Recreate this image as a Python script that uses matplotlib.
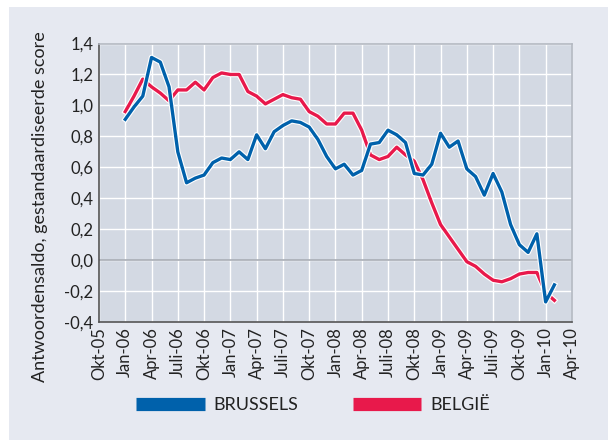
import numpy as np
import matplotlib.pyplot as plt
import matplotlib.patheffects as pe
from matplotlib.patches import Rectangle
from matplotlib.lines import Line2D

plt.rcParams['font.family'] = ['Lato', 'DejaVu Sans']

# monthly values, Jan-06 .. Feb-10
brussels = [0.91, 0.99, 1.06, 1.31, 1.28, 1.12, 0.70, 0.50, 0.53, 0.55,
            0.63, 0.66, 0.65, 0.70, 0.65, 0.81, 0.72, 0.83, 0.87, 0.90,
            0.89, 0.86, 0.78, 0.67, 0.59, 0.62, 0.55, 0.58, 0.75, 0.76,
            0.84, 0.81, 0.76, 0.56, 0.55, 0.62, 0.82, 0.73, 0.77, 0.59,
            0.54, 0.42, 0.56, 0.44, 0.23, 0.10, 0.05, 0.17, -0.27, -0.16]
belgie = [0.96, 1.06, 1.17, 1.12, 1.08, 1.03, 1.10, 1.10, 1.15, 1.10,
          1.18, 1.21, 1.20, 1.20, 1.09, 1.06, 1.01, 1.04, 1.07, 1.05,
          1.04, 0.96, 0.93, 0.88, 0.88, 0.95, 0.95, 0.84, 0.68, 0.65,
          0.67, 0.73, 0.68, 0.64, 0.52, 0.37, 0.23, 0.15, 0.07, -0.01,
          -0.04, -0.09, -0.13, -0.14, -0.12, -0.09, -0.08, -0.08, -0.21, -0.26]
tick_labels = ['Okt-05', 'Jan-06', 'Apr-06', 'Juli-06', 'Okt-06', 'Jan-07',
               'Apr-07', 'Juli-07', 'Okt-07', 'Jan-08', 'Apr-08', 'Juli-08',
               'Okt-08', 'Jan-09', 'Apr-09', 'Juli-09', 'Okt-09', 'Jan-10',
               'Apr-10']

blue = '#0061ab'
red = '#e8194b'

fig = plt.figure(figsize=(6.11, 4.42), dpi=100, facecolor='white')
fig.patches.append(Rectangle((9 / 611, 2 / 442), 599 / 611, 433 / 442,
                             transform=fig.transFigure, facecolor='#e6e9f1',
                             edgecolor='none', zorder=-5))

ax = fig.add_axes([0.162, 0.2715, 0.774, 0.63])
ax.set_facecolor('#d3d9e3')

months = np.arange(len(brussels))
outline = [pe.Stroke(linewidth=4.0, foreground='white'), pe.Normal()]
ax.plot(months, belgie, color=red, lw=2.4, path_effects=outline, zorder=3)
ax.plot(months, brussels, color=blue, lw=2.4, path_effects=outline, zorder=4)

ax.axhline(0, color='#a8adb5', lw=1.2, zorder=2)

ax.set_xlim(-3, 51)
ax.set_ylim(-0.4, 1.4)
ax.set_xticks(np.arange(-3, 52, 3))
ax.set_xticklabels(tick_labels, rotation=90, fontsize=12, color='#222222')
ax.set_yticks(np.arange(-0.4, 1.41, 0.2))
ax.set_yticklabels([f'{v:.1f}'.replace('.', ',') for v in np.arange(-0.4, 1.41, 0.2)],
                   fontsize=12, color='#222222')
ax.tick_params(length=0, pad=4)
ax.grid(True, color='white', lw=1.0, zorder=1)
ax.set_axisbelow(True)

for side in ['left', 'bottom']:
    ax.spines[side].set_color('#555555')
    ax.spines[side].set_linewidth(1.2)
for side in ['top', 'right']:
    ax.spines[side].set_color('#b4b9c2')
    ax.spines[side].set_linewidth(1.2)

ax.set_ylabel('Antwoordensaldo, gestandaardiseerde score', fontsize=13,
              color='#222222')
ax.yaxis.set_label_coords(-0.108, 0.415)

handles = [Line2D([], [], color=blue, lw=9.5, solid_capstyle='butt'),
           Line2D([], [], color=red, lw=9.5, solid_capstyle='butt')]
fig.legend(handles, ['BRUSSELS', 'BELGIË'], loc='center',
           bbox_to_anchor=(313 / 611, 1 - 405 / 442), ncol=2, frameon=False,
           fontsize=13, handlelength=3.8, handletextpad=0.5, columnspacing=3.0,
           labelcolor='#222222')

fig.savefig('out.png', dpi=100, facecolor=fig.get_facecolor())
